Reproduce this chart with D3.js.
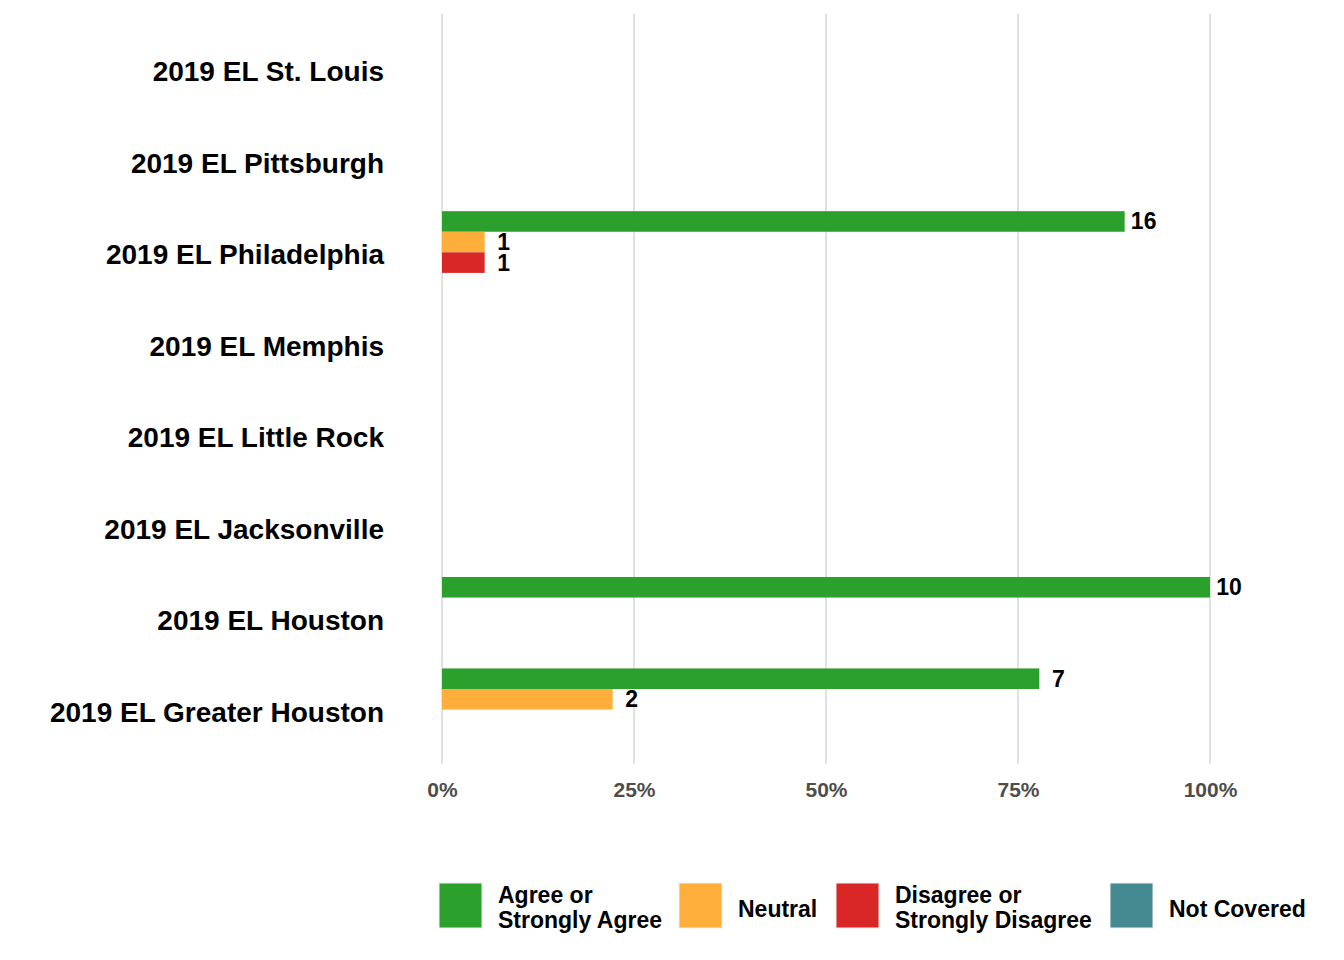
<!DOCTYPE html>
<html><head><meta charset="utf-8">
<script src="https://cdn.jsdelivr.net/npm/d3@7"></script>
<style>body{margin:0;background:#fff}svg{display:block;font-family:"Liberation Sans",Arial,sans-serif}</style>
</head><body><svg id="c" width="1344" height="960"></svg>
<script>
const categories = ["2019 EL St. Louis","2019 EL Pittsburgh","2019 EL Philadelphia","2019 EL Memphis","2019 EL Little Rock","2019 EL Jacksonville","2019 EL Houston","2019 EL Greater Houston"];
const seriesNames = ["Agree or Strongly Agree","Neutral","Disagree or Strongly Disagree","Not Covered"];
const legendLines = [["Agree or","Strongly Agree"],["Neutral"],["Disagree or","Strongly Disagree"],["Not Covered"]];
const agree     = [0,0,16,0,0,0,10,7];
const neutral   = [0,0,1,0,0,0,0,2];
const disagree  = [0,0,1,0,0,0,0,0];
const notCovered= [0,0,0,0,0,0,0,0];
const tickValues = [0,0.25,0.5,0.75,1];
const tickLabels = ["0%","25%","50%","75%","100%"];
const colors = ["#2ca02c","#ffad3b","#d92727","#468a91"];

const seriesVals = [agree, neutral, disagree, notCovered];
const svg = d3.select("#c");
const x = d3.scaleLinear().domain([0,1]).range([442,1210]);
const y = d3.scaleBand().domain(categories).range([23.7,755.3]);
const inner = d3.scaleBand().domain(seriesNames).range([0.05*y.bandwidth(), 0.95*y.bandwidth()]);

// gridlines
svg.append("g").selectAll("line").data(tickValues).join("line")
  .attr("x1",d=>x(d)).attr("x2",d=>x(d)).attr("y1",14).attr("y2",764)
  .attr("stroke","#dadada").attr("stroke-width",1.6);

// tick labels
const xAxis = d3.axisBottom(x).tickValues(tickValues).tickFormat((d,i)=>tickLabels[i]).tickSize(0);
const ax = svg.append("g").attr("transform","translate(0,778)").call(xAxis);
ax.select(".domain").remove();
ax.selectAll("text").attr("font-size",21).attr("font-weight","bold").attr("fill","#4d4d4d")
  .attr("font-family","'Liberation Sans',Arial,sans-serif").attr("dy",0).attr("y",19);

// category labels
svg.append("g").selectAll("text").data(categories).join("text")
  .attr("x",384).attr("y",d=>y(d)+y.bandwidth()/2+12)
  .attr("text-anchor","end").attr("font-size",28).attr("font-weight","bold").attr("fill","#000")
  .text(d=>d);

// bars
const rows = [];
categories.forEach((c,ci)=>{
  const total = d3.sum(seriesVals, s=>s[ci]);
  seriesNames.forEach((s,si)=>{
    const v = seriesVals[si][ci];
    if (v>0) rows.push({c, s, si, v, p: v/total});
  });
});
const g = svg.append("g");
g.selectAll("rect").data(rows).join("rect")
  .attr("x",x(0)).attr("y",d=>y(d.c)+inner(d.s))
  .attr("width",d=>x(d.p)-x(0)).attr("height",inner.bandwidth())
  .attr("fill",d=>colors[d.si]);
g.selectAll("text").data(rows).join("text")
  .attr("x",d=>x(d.p)+19).attr("y",d=>y(d.c)+inner(d.s)+inner.bandwidth()/2+8)
  .attr("text-anchor","middle")
  .attr("font-size",23).attr("font-weight","bold").attr("fill","#000")
  .text(d=>d.v);

// legend
const keyX = [439,679,836,1110];
const lg = svg.append("g");
seriesNames.forEach((s,i)=>{
  lg.append("rect").attr("x",keyX[i]).attr("y",883).attr("width",43).attr("height",45)
    .attr("fill",colors[i]).attr("stroke","#f0f0f0").attr("stroke-width",1);
  const lines = legendLines[i];
  const t = lg.append("text").attr("font-size",23).attr("font-weight","bold").attr("fill","#000");
  const baseY = lines.length===2 ? 903 : 917;
  lines.forEach((l,j)=>{
    t.append("tspan").attr("x",keyX[i]+59).attr("y",baseY+j*25).text(l);
  });
});
</script></body></html>
